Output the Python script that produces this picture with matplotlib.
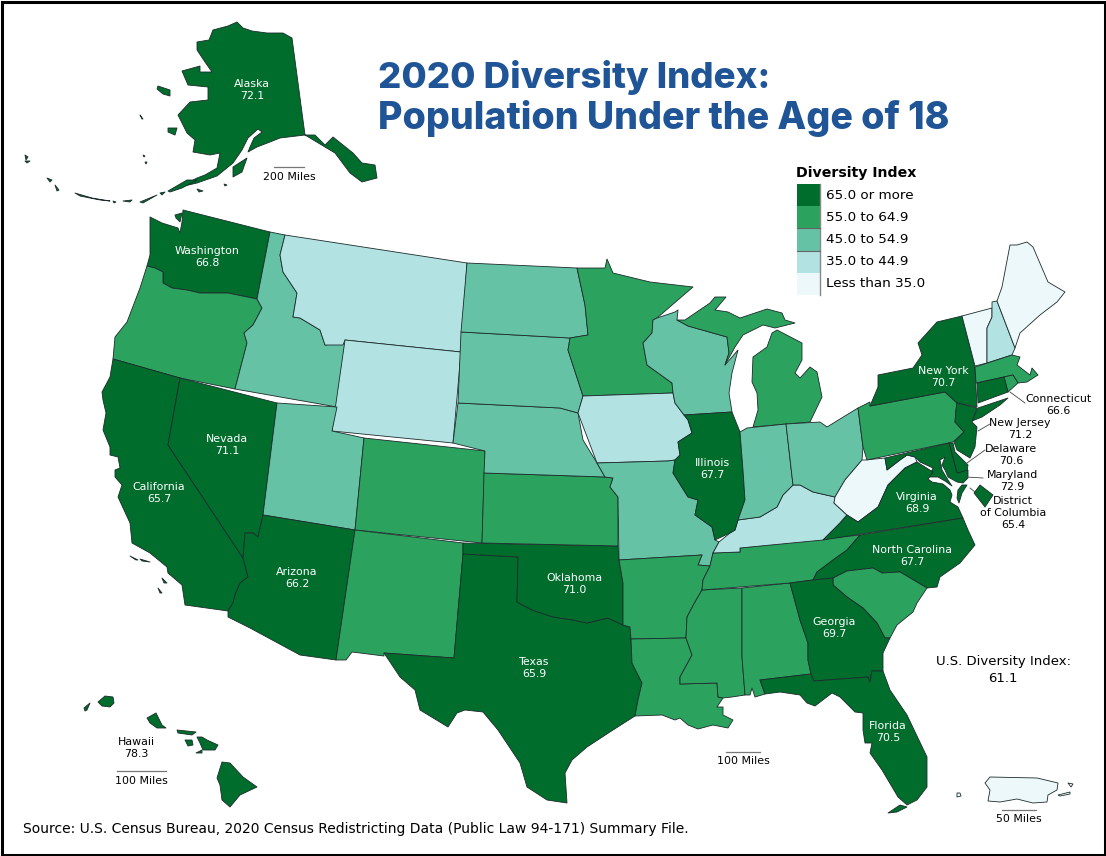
import matplotlib
matplotlib.use("Agg")
import matplotlib.pyplot as plt
from matplotlib.patches import Polygon, Rectangle

plt.rcParams["font.family"] = ["DejaVu Sans"]

# data
legend_labels = ["65.0 or more", "55.0 to 64.9", "45.0 to 54.9", "35.0 to 44.9", "Less than 35.0"]
class_colors = ["#006d2c", "#2ca25f", "#66c2a4", "#b2e2e2", "#edf8fb"]

labeled_names = ["Alaska", "Washington", "California", "Nevada", "Arizona", "Texas", "Oklahoma",
                 "Illinois", "New York", "Virginia", "North Carolina", "Georgia", "Florida",
                 "Connecticut", "New Jersey", "Delaware", "Maryland", "District of Columbia", "Hawaii"]
labeled_values = [72.1, 66.8, 65.7, 71.1, 66.2, 65.9, 71.0,
                  67.7, 70.7, 68.9, 67.7, 69.7, 70.5,
                  66.6, 71.2, 70.6, 72.9, 65.4, 78.3]

class_55 = ["Oregon", "Colorado", "New Mexico", "Kansas", "Minnesota", "Arkansas", "Louisiana", "Mississippi",
            "Alabama", "Tennessee", "South Carolina", "Michigan", "Michigan UP", "Pennsylvania",
            "Massachusetts", "Rhode Island"]
class_45 = ["Idaho", "Utah", "North Dakota", "South Dakota", "Nebraska", "Missouri", "Wisconsin", "Indiana", "Ohio"]
class_35 = ["Montana", "Wyoming", "Iowa", "Kentucky", "New Hampshire"]
class_low = ["West Virginia", "Vermont", "Maine", "Puerto Rico"]

us_index = 61.1

# state outlines in pixels
outlines = {
    "Washington": [(183,210),(270,232),(257,299),(228,293),(200,293),(187,290),(172,288),(163,283),(163,272),(155,268),(147,266),(150,255),(150,233),(150,217),(162,223),(178,228),(180,233),(182,222)],
    "San Juan": [(175,215),(182,213),(180,222),(176,218)],
    "Oregon": [(147,266),(155,268),(163,272),(163,283),(172,288),(187,290),(200,293),(228,293),(257,299),(262,308),(253,325),(244,333),(247,343),(235,389),(180,378),(113,359),(115,337),(127,322),(140,288)],
    "California": [(113,359),(180,378),(168,445),(243,558),(248,577),(240,583),(235,595),(233,603),(228,611),(185,605),(182,585),(168,573),(167,567),(150,553),(132,543),(130,523),(118,497),(122,485),(115,477),(115,470),(120,468),(118,457),(110,455),(110,447),(103,430),(106,413),(103,400),(102,392),(110,377)],
    "Nevada": [(180,378),(277,403),(263,515),(258,537),(253,533),(245,533),(243,558),(168,445)],
    "Idaho": [(270,232),(285,235),(280,255),(283,272),(297,293),(293,317),(300,318),(320,330),(325,345),(345,343),(337,407),(235,389),(247,343),(244,333),(253,325),(262,308),(257,299)],
    "Montana": [(285,235),(467,263),(461,352),(345,340),(343,345),(325,345),(320,330),(300,318),(293,317),(297,293),(283,272),(280,255)],
    "Wyoming": [(345,340),(461,352),(453,443),(332,431)],
    "Utah": [(277,403),(337,407),(332,431),(364,438),(355,530),(263,515)],
    "Arizona": [(263,515),(355,530),(336,660),(300,655),(250,628),(228,617),(228,611),(233,603),(235,595),(240,583),(248,577),(243,558),(245,533),(253,533),(258,537)],
    "Colorado": [(364,438),(485,451),(482,543),(355,530)],
    "New Mexico": [(355,530),(463,543),(463,554),(454,658),(384,653),(384,656),(352,652),(346,660),(336,660)],
    "Texas": [(463,554),(518,557),(517,602),(532,610),(553,617),(573,620),(587,623),(608,618),(623,625),(630,627),(631,639),(632,663),(642,683),(638,700),(635,716),(613,730),(587,747),(572,760),(565,773),(567,803),(547,800),(527,787),(520,763),(498,730),(483,712),(465,710),(457,713),(448,727),(420,710),(415,690),(400,677),(384,653),(454,658)],
    "Oklahoma": [(463,543),(618,546),(619,560),(623,583),(623,625),(608,618),(587,623),(573,620),(553,617),(532,610),(517,602),(518,557),(463,554)],
    "Kansas": [(484,473),(605,477),(613,478),(610,487),(618,497),(618,546),(482,543)],
    "Nebraska": [(458,403),(560,408),(578,413),(583,440),(597,463),(605,477),(484,473),(485,451),(453,443)],
    "South Dakota": [(461,332),(570,338),(568,350),(583,396),(578,413),(560,408),(458,403)],
    "North Dakota": [(467,263),(577,268),(585,305),(588,335),(570,338),(461,332)],
    "Minnesota": [(577,268),(605,268),(607,259),(613,273),(650,282),(693,287),(657,318),(653,320),(652,333),(643,343),(647,365),(672,383),(673,393),(583,396),(568,350),(570,338),(588,335),(585,305)],
    "Iowa": [(583,396),(673,393),(675,403),(684,415),(688,420),(692,433),(678,442),(680,455),(675,460),(668,461),(597,463),(578,413)],
    "Missouri": [(597,463),(668,461),(675,460),(673,473),(688,497),(698,500),(695,515),(712,527),(715,540),(719,542),(713,553),(710,566),(698,565),(702,555),(619,560),(618,497),(610,487),(613,478),(605,477)],
    "Arkansas": [(619,560),(702,555),(698,565),(710,566),(703,580),(702,590),(695,602),(687,617),(686,638),(631,639),(630,627),(623,625),(623,583)],
    "Louisiana": [(631,639),(686,638),(692,655),(680,677),(680,684),(717,683),(718,697),(723,698),(717,707),(723,707),(723,715),(733,720),(728,728),(713,725),(698,729),(688,725),(680,718),(675,720),(662,715),(635,716),(638,700),(642,683),(632,663)],
    "Mississippi": [(702,590),(742,588),(742,657),(745,695),(732,697),(723,698),(718,697),(717,683),(680,684),(680,677),(692,655),(686,638),(687,617),(695,602)],
    "Alabama": [(742,588),(790,583),(800,620),(808,643),(808,660),(811,674),(760,680),(765,694),(755,697),(752,688),(750,695),(745,695),(742,657)],
    "Tennessee": [(713,553),(740,552),(740,548),(860,535),(847,550),(833,560),(817,572),(813,580),(790,583),(702,590),(703,580),(710,566)],
    "Kentucky": [(738,520),(760,517),(777,507),(783,495),(793,485),(800,485),(813,492),(835,497),(834,503),(847,515),(840,523),(823,540),(740,548),(740,552),(713,553),(719,542),(730,533),(735,530)],
    "Wisconsin": [(653,320),(657,318),(675,312),(678,310),(677,320),(688,326),(727,337),(729,353),(725,365),(738,350),(732,373),(729,393),(732,412),(684,415),(675,403),(673,393),(672,383),(647,365),(643,343),(652,333)],
    "Michigan UP": [(677,320),(685,320),(710,303),(715,297),(726,297),(715,310),(728,312),(740,318),(767,309),(782,313),(785,320),(795,323),(775,328),(763,325),(743,335),(735,347),(725,365),(729,353),(727,337),(688,326)],
    "Michigan": [(777,330),(802,343),(802,360),(795,373),(800,378),(810,367),(817,372),(822,397),(810,422),(786,424),(753,427),(758,410),(757,393),(752,382),(753,357),(767,347),(772,333)],
    "Illinois": [(684,415),(732,412),(740,432),(743,470),(745,500),(738,520),(735,530),(730,533),(715,540),(712,527),(695,515),(698,500),(688,497),(673,473),(675,460),(680,455),(678,442),(692,433),(688,420)],
    "Indiana": [(740,432),(747,428),(786,424),(793,485),(783,495),(777,507),(760,517),(738,520),(745,500),(743,470)],
    "Ohio": [(786,424),(820,422),(827,427),(858,408),(863,447),(862,460),(845,480),(835,497),(813,492),(800,485),(793,485)],
    "West Virginia": [(865,460),(885,458),(887,470),(900,460),(907,455),(915,457),(917,462),(905,468),(888,485),(878,507),(858,522),(847,515),(834,503),(835,497),(845,480),(862,460)],
    "Pennsylvania": [(858,408),(870,402),(870,406),(945,392),(957,403),(956,410),(955,422),(964,432),(953,442),(867,460),(863,447)],
    "New York": [(870,406),(878,387),(878,375),(913,368),(922,355),(918,343),(937,322),(962,316),(975,367),(977,407),(957,403),(945,392)],
    "Long Island": [(978,408),(1008,398),(1000,405),(982,417),(972,421)],
    "Vermont": [(962,316),(992,308),(992,317),(987,328),(987,363),(975,366)],
    "New Hampshire": [(992,302),(997,301),(1015,348),(1012,355),(987,363),(987,328),(992,317)],
    "Maine": [(997,301),(1002,287),(1010,245),(1017,245),(1027,242),(1033,247),(1048,282),(1065,292),(1057,302),(1040,315),(1020,333),(1015,348)],
    "Massachusetts": [(975,367),(1012,355),(1020,357),(1017,365),(1030,375),(1032,368),(1038,375),(1027,382),(1018,383),(1013,375),(976,383)],
    "Rhode Island": [(1004,377),(1013,375),(1018,383),(1008,392)],
    "Connecticut": [(977,383),(1004,377),(1008,392),(978,403)],
    "New Jersey": [(957,403),(977,408),(972,422),(977,427),(975,447),(970,458),(957,450),(954,442),(964,432),(955,422),(956,410)],
    "Delaware": [(949,443),(953,443),(955,452),(968,465),(967,472),(957,473)],
    "Maryland": [(885,458),(949,443),(957,473),(968,470),(968,478),(963,483),(957,482),(948,477),(945,470),(942,465),(945,457),(940,460),(942,470),(948,480),(952,486),(945,481),(938,477),(929,477),(933,468),(920,462),(915,457),(907,455),(900,460),(887,470)],
    "Virginia Shore": [(962,485),(967,485),(962,493),(959,503),(957,498),(958,490)],
    "Virginia": [(823,540),(840,523),(847,515),(858,522),(878,507),(888,485),(905,468),(917,462),(933,472),(928,479),(932,482),(943,484),(950,490),(952,495),(950,502),(958,507),(963,518)],
    "North Carolina": [(963,518),(860,535),(847,550),(833,560),(817,572),(813,580),(833,578),(847,571),(873,568),(882,573),(900,572),(927,588),(937,587),(940,577),(960,563),(975,545),(968,530)],
    "South Carolina": [(833,578),(847,571),(873,568),(882,573),(900,572),(927,588),(917,603),(913,612),(897,625),(890,638),(885,638),(877,623),(863,608),(847,597),(833,585)],
    "Georgia": [(790,583),(813,580),(833,578),(833,585),(847,597),(863,608),(877,623),(885,638),(890,638),(883,653),(883,671),(872,671),(870,682),(868,677),(814,681),(811,674),(808,660),(808,643),(800,620)],
    "Florida": [(760,680),(811,674),(814,681),(868,677),(870,682),(872,671),(883,671),(890,690),(907,715),(927,757),(927,787),(917,800),(907,805),(898,797),(882,770),(870,753),(872,743),(865,743),(863,730),(863,713),(855,712),(840,697),(832,693),(815,706),(807,703),(800,695),(780,692),(765,694)],
    "Florida Keys": [(888,813),(900,805),(907,807),(897,812)],
    "District of Columbia": [(980,485),(993,495),(985,507),(974,493)],
    "Alaska": [(237,22),(228,26),(213,30),(209,40),(197,42),(197,50),(205,62),(212,72),(200,72),(200,66),(182,71),(188,85),(208,87),(208,100),(190,102),(178,115),(187,133),(195,140),(193,152),(210,155),(220,153),(217,168),(205,175),(197,178),(180,187),(197,183),(217,176),(233,163),(242,150),(248,138),(258,129),(262,132),(254,138),(250,147),(248,152),(257,147),(270,142),(280,138),(305,135),(315,135),(325,145),(333,137),(353,153),(362,163),(375,165),(377,178),(362,182),(350,173),(335,153),(325,147),(305,135),(292,38),(283,33),(267,33),(252,31),(243,28)],
    "Kodiak": [(247,158),(233,167),(233,177),(242,172)],
    "St Lawrence": [(158,86),(170,90),(170,96),(163,94),(157,89)],
    "Nunivak": [(168,128),(177,128),(175,135),(168,132)],
    "Peninsula": [(168,191),(187,180),(197,180),(182,188),(170,192)],
    "Aleutian 1": [(140,202),(157,195),(150,199),(143,203)],
    "Aleutian 2": [(75,193),(92,198),(110,201),(100,200),(80,196)],
    "Aleutian 3": [(47,178),(52,180),(50,182)],
    "Aleutian 4": [(25,155),(28,157),(26,160)],
    "Aleutian 5": [(55,185),(59,190),(57,191)],
    "Aleutian 6": [(25,161),(30,161),(27,163)],
    "Aleutian 7": [(113,201),(116,202),(114,203)],
    "Aleutian 8": [(123,201),(132,200),(130,202)],
    "Aleutian 9": [(160,193),(165,192),(162,195)],
    "Aleutian 10": [(197,189),(203,191),(199,192)],
    "Aleutian 11": [(140,115),(143,119),(142,119)],
    "Aleutian 12": [(143,155),(145,156),(144,157)],
    "Aleutian 13": [(145,162),(147,162),(146,164)],
    "Aleutian 14": [(224,184),(227,185),(225,186)],
    "Channel 1": [(130,556),(138,560),(136,560)],
    "Channel 2": [(140,559),(150,562),(142,561)],
    "Channel 3": [(162,578),(167,583),(164,583)],
    "Channel 4": [(158,588),(162,593),(160,593)],
    "Hawaii": [(222,762),(230,763),(243,777),(257,787),(240,795),(230,807),(222,800),(220,785),(217,778)],
    "Maui": [(197,737),(202,737),(207,740),(218,745),(215,750),(203,750),(200,743)],
    "Molokai": [(177,730),(196,732),(192,735),(178,733)],
    "Lanai": [(185,740),(192,740),(193,745),(188,746)],
    "Kahoolawe": [(196,753),(202,750),(202,753)],
    "Oahu": [(147,718),(156,713),(162,725),(166,728),(157,728),(150,723)],
    "Kauai": [(98,702),(105,696),(113,697),(114,703),(110,707),(102,706)],
    "Niihau": [(84,708),(90,703),(87,710),(85,711)],
    "Puerto Rico": [(990,777),(1037,778),(1058,783),(1057,790),(1048,795),(1047,802),(1033,803),(1017,799),(1000,802),(988,801),(990,790),(985,783)],
    "Vieques": [(1058,795),(1070,792),(1070,794),(1060,796)],
    "Culebra": [(1068,783),(1073,784),(1071,787)],
    "Mona": [(957,793),(960,793),(961,796),(957,797)],
}

# pieces that belong to a named state
parts = {"Long Island": "New York", "Virginia Shore": "Virginia", "Florida Keys": "Florida", "San Juan": "Washington",
         "Channel 1": "California", "Channel 2": "California", "Channel 3": "California", "Channel 4": "California",
         "Kodiak": "Alaska", "St Lawrence": "Alaska", "Nunivak": "Alaska", "Peninsula": "Alaska",
         "Maui": "Hawaii", "Molokai": "Hawaii", "Lanai": "Hawaii", "Kahoolawe": "Hawaii", "Oahu": "Hawaii",
         "Kauai": "Hawaii", "Niihau": "Hawaii", "Vieques": "Puerto Rico", "Culebra": "Puerto Rico", "Mona": "Puerto Rico"}
for n in range(1, 15):
    parts[f"Aleutian {n}"] = "Alaska"

label_pos = {"Alaska": (252,90), "Washington": (207,257), "California": (159,493), "Nevada": (227,445),
             "Arizona": (297,578), "Texas": (534,668), "Oklahoma": (574,584), "Illinois": (712,469),
             "New York": (943,377), "Virginia": (917,503), "North Carolina": (912,556), "Georgia": (834,628),
             "Florida": (888,732), "Connecticut": (1058,405), "New Jersey": (1020,429), "Delaware": (1011,455),
             "Maryland": (1012,481), "District of Columbia": (1013,513), "Hawaii": (136,748)}
outside = ["Connecticut", "New Jersey", "Delaware", "Maryland", "District of Columbia", "Hawaii"]

leaders = [((1010,392),(1025,403)), ((978,431),(990,424)), ((967,463),(985,450)), ((966,477),(983,478)), ((970,488),(975,492))]
scale_bars = [(274,304,167,"200 Miles"), (117,166,771,"100 Miles"), (726,760,752,"100 Miles"), (1002,1036,810,"50 Miles")]


def state_color(name):
    name = parts.get(name, name)
    if name in labeled_names:
        return class_colors[0]
    for i, group in enumerate([class_55, class_45, class_35, class_low]):
        if name in group:
            return class_colors[i + 1]
    return "white"


fig = plt.figure(figsize=(11.06, 8.56), dpi=100)
ax = fig.add_axes([0, 0, 1, 1])
ax.set_xlim(0, 1106)
ax.set_ylim(856, 0)
ax.axis("off")

ax.add_patch(Rectangle((1.5, 1.5), 1103, 853, fill=False, ec="black", lw=2.2))

for name, pts in outlines.items():
    ax.add_patch(Polygon(pts, closed=True, fc=state_color(name), ec="#1c2b2b", lw=0.6, joinstyle="round"))

for name, value in zip(labeled_names, labeled_values):
    x, y = label_pos[name]
    color = "black" if name in outside else "white"
    text = name.replace("District of ", "District\nof ") + "\n" + f"{value:.1f}"
    ax.text(x, y, text, color=color, ha="center", va="center", fontsize=7.9, linespacing=1.3)

for a, b in leaders:
    ax.plot([a[0], b[0]], [a[1], b[1]], color="#444444", lw=0.6)

for x0, x1, y, txt in scale_bars:
    ax.plot([x0, x1], [y, y], color="#777777", lw=0.9)
    ax.text((x0 + x1) / 2, y + 9.5, txt, ha="center", va="center", fontsize=7.9)

# title
title_font = ["Inter", "Noto Sans", "DejaVu Sans"]
ax.text(378, 77, "2020 Diversity Index:", color="#1f5596", fontsize=26.4, fontweight=800, va="center", family=title_font)
ax.text(378, 118, "Population Under the Age of 18", color="#1f5596", fontsize=27, fontweight=800, va="center", family=title_font)

# legend
ax.text(796, 173, "Diversity Index", fontsize=10.2, fontweight="bold", va="center")
for i, (lab, col) in enumerate(zip(legend_labels, class_colors)):
    y = 184 + i * 22.2
    ax.add_patch(Rectangle((797, y), 23, 22.2, fc=col, ec="none"))
    ax.text(826, y + 11, lab, fontsize=9.7, va="center")
ax.plot([820, 820], [184, 295], color="#888888", lw=1)
for i in [2, 3]:
    ax.plot([797, 820], [184 + i * 22.2] * 2, color="#666666", lw=0.8)

ax.text(1003, 670, f"U.S. Diversity Index:\n{us_index}", ha="center", va="center", fontsize=9.5, linespacing=1.3)
ax.text(23, 829, "Source: U.S. Census Bureau, 2020 Census Redistricting Data (Public Law 94-171) Summary File.",
        fontsize=10, va="center")

fig.savefig("out.png", dpi=100)
